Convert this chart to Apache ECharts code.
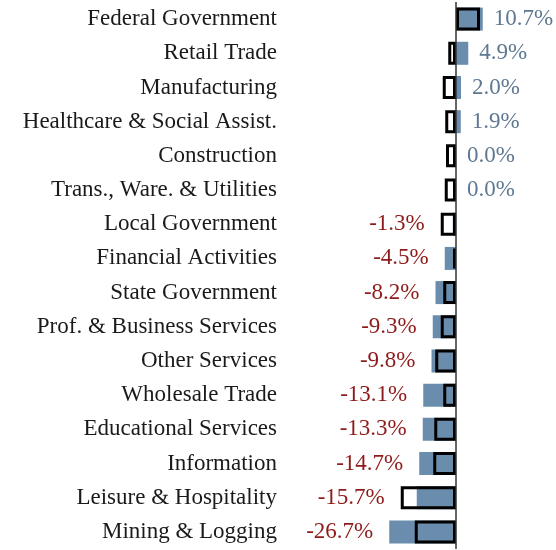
<!DOCTYPE html>
<html lang="en">
  <head>
    <meta charset="UTF-8" />
    <title>Employment change by industry</title>
    <script src="https://cdn.jsdelivr.net/npm/echarts@6/dist/echarts.min.js"></script>
    <style>
      html, body { margin: 0; padding: 0; background: #fff; }
      #chart { width: 556px; height: 550px; }
    </style>
  </head>
  <body>
    <div id="chart"></div>
    <script>
      // industries, top to bottom
      const categories = [
        "Federal Government", "Retail Trade", "Manufacturing",
        "Healthcare & Social Assist.", "Construction", "Trans., Ware. & Utilities",
        "Local Government", "Financial Activities", "State Government",
        "Prof. & Business Services", "Other Services", "Wholesale Trade",
        "Educational Services", "Information", "Leisure & Hospitality",
        "Mining & Logging"
      ];
      // blue filled bars (labelled)
      const current = [10.7, 4.9, 2.0, 1.9, 0.0, 0.0, -1.3, -4.5, -8.2, -9.3, -9.8, -13.1, -13.3, -14.7, -15.7, -26.7];
      // black outlined bars
      const prior = [9.6, -3.1, -5.3, -4.3, -4.0, -4.5, -6.1, -1.2, -5.1, -6.1, -8.3, -5.1, -8.7, -9.1, -22.1, -16.5];

      const font = "Liberation Serif";

      // label anchor sits at the outer end of whichever bar reaches further
      const labelData = current.map((v, i) => {
        const pos = v >= 0;
        const end = pos ? Math.max(v, prior[i], 0) : Math.min(v, prior[i]);
        return {
          value: end,
          label: {
            position: pos ? "right" : "left",
            color: pos ? "#5e7891" : "#8e1b1b",
            distance: pos ? 11 : 16
          }
        };
      });

      const chart = echarts.init(document.getElementById("chart"));
      chart.setOption({
        animation: false,
        grid: { left: 381, right: 0, top: 2, bottom: 1, outerBoundsMode: "none" },
        xAxis: { type: "value", min: -30, max: 40, show: false },
        yAxis: {
          type: "category",
          data: categories,
          inverse: true,
          axisLine: { show: false },
          axisTick: { show: false },
          axisLabel: { margin: 104, fontSize: 23, color: "#1a1a1a", fontFamily: font }
        },
        series: [
          {
            name: "current",
            type: "bar",
            data: current,
            barWidth: 23,
            barGap: "-100%",
            itemStyle: { color: "#6a8cad" },
            markLine: {
              silent: true,
              symbol: "none",
              label: { show: false },
              lineStyle: { color: "#333", width: 1.5, type: "solid" },
              data: [{ xAxis: 0 }]
            }
          },
          {
            name: "prior",
            type: "bar",
            data: prior,
            barWidth: 23,
            barGap: "-100%",
            z: 3,
            itemStyle: { color: "rgba(0,0,0,0)", borderColor: "#000", borderWidth: 3 }
          },
          {
            name: "labels",
            type: "bar",
            data: labelData,
            barWidth: 23,
            barGap: "-100%",
            silent: true,
            itemStyle: { color: "rgba(0,0,0,0)" },
            label: {
              show: true,
              fontSize: 23,
              fontFamily: font,
              formatter: (p) => current[p.dataIndex].toFixed(1) + "%"
            }
          }
        ]
      });
    </script>
  </body>
</html>
